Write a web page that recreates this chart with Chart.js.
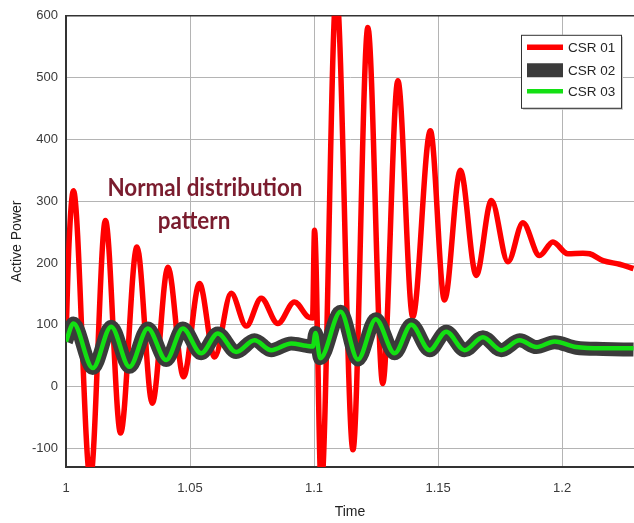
<!DOCTYPE html>
<html>
<head>
<meta charset="utf-8">
<script src="https://cdn.jsdelivr.net/npm/chart.js@4/dist/chart.umd.min.js"></script>
<style>
  html, body { margin: 0; padding: 0; background: #ffffff; }
  #wrap { width: 634px; height: 523px; }
</style>
</head>
<body>
<div id="wrap"><canvas id="c" width="634" height="523"></canvas></div>
<script>
// ---- data ----
const seriesNames = ['CSR 01', 'CSR 02', 'CSR 03'];

const csr01Time = [1.0000, 1.0012, 1.0030, 1.0098, 1.0159, 1.0220, 1.0286, 1.0348, 1.0411, 1.0474,
                   1.0538, 1.0599, 1.0666, 1.0727, 1.0787, 1.0854, 1.0921, 1.0975, 1.0994, 1.1002,
                   1.1029, 1.1090, 1.1157, 1.1217, 1.1277, 1.1338, 1.1398, 1.1469, 1.1526, 1.1590,
                   1.1654, 1.1715, 1.1782, 1.1842, 1.1909, 1.1963, 1.2023, 1.2084, 1.2111, 1.2165,
                   1.2232, 1.2288];
const csr01Power = [80, 230, 317, -150, 269, -75, 226, -27, 193, 16,
                    167, 48, 151, 98, 143, 102, 137, 113, 111, 253,
                    -165, 640, -102, 581, 5, 495, 113, 414, 140, 350,
                    180, 301, 202, 265, 212, 234, 215, 216, 215, 204,
                    198, 191];

const csr02Time = [1.0000, 1.0030, 1.0108, 1.0182, 1.0256, 1.0330, 1.0404, 1.0471, 1.0545, 1.0612,
                   1.0686, 1.0760, 1.0827, 1.0908, 1.0969, 1.0995, 1.1006, 1.1025, 1.1107, 1.1177,
                   1.1249, 1.1325, 1.1392, 1.1466, 1.1533, 1.1607, 1.1681, 1.1755, 1.1829, 1.1896,
                   1.1970, 1.2057, 1.2165, 1.2288];
const csr02Power = [73, 102, 30, 97, 32, 94, 43, 94, 54, 86,
                    56, 75, 59, 70, 66, 65, 87, 46, 121, 44,
                    109, 54, 100, 59, 89, 59, 80, 59, 75, 64,
                    72, 63, 61, 60];

const csr03Time = [1.0000, 1.0030, 1.0108, 1.0182, 1.0256, 1.0330, 1.0404, 1.0471, 1.0545, 1.0612,
                   1.0686, 1.0760, 1.0827, 1.0908, 1.0969, 1.0995, 1.1006, 1.1025, 1.1107, 1.1177,
                   1.1249, 1.1325, 1.1392, 1.1466, 1.1533, 1.1607, 1.1681, 1.1755, 1.1829, 1.1896,
                   1.1970, 1.2057, 1.2165, 1.2288];
const csr03Power = [73, 102, 30, 97, 32, 94, 43, 94, 54, 86,
                    56, 75, 59, 70, 66, 65, 87, 46, 121, 44,
                    109, 54, 100, 59, 89, 59, 80, 59, 75, 64,
                    73, 64, 62, 62];

const xTickValues = [1, 1.05, 1.1, 1.15, 1.2];
const yTickValues = [-100, 0, 100, 200, 300, 400, 500, 600];
const xRange = [1, 1.229];
const yRange = [-130, 600];
const annotationLines = ['Normal distribution', 'pattern'];

// ---- helpers ----
const toPoints = (ts, vs) => ts.map((t, i) => ({ x: t, y: vs[i] }));
const seriesColors = ['#ff0000', '#3b3b3b', '#13e013'];
const seriesWidths = [5.5, 14, 4.5];

const boxLegend = {
  id: 'boxLegend',
  afterDraw(chart) {
    const ctx = chart.ctx;
    const area = chart.chartArea;
    const bx = area.right - 113, by = area.top + 19, bw = 100, bh = 73;
    ctx.save();
    ctx.fillStyle = '#c8c8c8';
    ctx.fillRect(bx + 2, by + 2, bw, bh);
    ctx.fillStyle = '#ffffff';
    ctx.fillRect(bx, by, bw, bh);
    ctx.strokeStyle = '#333333';
    ctx.lineWidth = 1;
    ctx.strokeRect(bx + 0.5, by + 0.5, bw, bh);
    const rows = [12.5, 35.5, 56.5];
    const textRows = [13.5, 36.5, 57];
    ctx.font = '13.5px "Liberation Sans", Arial, sans-serif';
    ctx.textBaseline = 'middle';
    ctx.textAlign = 'left';
    chart.data.datasets.forEach((ds, i) => {
      ctx.strokeStyle = ds.borderColor;
      ctx.lineWidth = ds.borderWidth;
      ctx.lineCap = 'butt';
      ctx.beginPath();
      ctx.moveTo(bx + 6, by + rows[i]);
      ctx.lineTo(bx + 42, by + rows[i]);
      ctx.stroke();
      ctx.fillStyle = '#262626';
      ctx.fillText(ds.label, bx + 47, by + textRows[i]);
    });
    ctx.restore();
  }
};

const annotation = {
  id: 'annotation',
  afterDatasetsDraw(chart) {
    const ctx = chart.ctx;
    const xs = chart.scales.x, ys = chart.scales.y;
    ctx.save();
    ctx.font = 'bold 25px Lato, "Open Sans", sans-serif';
    ctx.fillStyle = '#7a1c2e';
    ctx.textBaseline = 'alphabetic';
    ctx.textAlign = 'left';
    const w1 = ctx.measureText(annotationLines[0]).width;
    const sx = 195 / w1;
    const x1 = xs.getPixelForValue(1.0167), y1 = ys.getPixelForValue(309);
    const x2 = xs.getPixelForValue(1.0370), y2 = ys.getPixelForValue(255);
    ctx.save(); ctx.translate(x1, y1); ctx.scale(sx, 1); ctx.fillText(annotationLines[0], 0, 0); ctx.restore();
    ctx.save(); ctx.translate(x2, y2); ctx.scale(sx, 1); ctx.fillText(annotationLines[1], 0, 0); ctx.restore();
    ctx.restore();
  }
};

const tickFont = { family: '"Liberation Sans", Arial, sans-serif', size: 13 };

new Chart(document.getElementById('c'), {
  type: 'line',
  data: {
    datasets: [
      { label: seriesNames[0], data: toPoints(csr01Time, csr01Power), order: 3 },
      { label: seriesNames[1], data: toPoints(csr02Time, csr02Power), order: 2 },
      { label: seriesNames[2], data: toPoints(csr03Time, csr03Power), order: 1 }
    ].map((d, i) => Object.assign(d, {
      borderColor: seriesColors[i],
      backgroundColor: seriesColors[i],
      borderWidth: seriesWidths[i],
      pointRadius: 0,
      fill: false,
      cubicInterpolationMode: 'monotone',
      borderJoinStyle: 'round',
      clip: 0
    }))
  },
  options: {
    responsive: false,
    animation: false,
    events: [],
    layout: { padding: { top: 13, right: 0, left: 0, bottom: 0 } },
    plugins: { legend: { display: false }, tooltip: { enabled: false } },
    scales: {
      x: {
        type: 'linear',
        min: xRange[0], max: xRange[1],
        afterBuildTicks: s => { s.ticks = xTickValues.map(v => ({ value: v })); },
        afterFit: s => { s.height = 56; },
        ticks: {
          font: tickFont, color: '#3a3a3a', padding: 14, maxRotation: 0,
          callback: v => String(v)
        },
        grid: { color: '#b4b4b4', lineWidth: 1, drawTicks: false },
        border: { color: '#333333', width: 2 },
        title: {
          display: true, text: 'Time', color: '#222222',
          font: { family: '"Liberation Sans", Arial, sans-serif', size: 14 },
          padding: { top: 0, bottom: 2 }
        }
      },
      y: {
        type: 'linear',
        min: yRange[0], max: yRange[1],
        afterBuildTicks: s => { s.ticks = yTickValues.map(v => ({ value: v })); },
        afterFit: s => { s.width = 66; },
        ticks: {
          font: tickFont, color: '#3a3a3a', padding: 8,
          callback: v => String(v)
        },
        grid: {
          color: c => (c.tick && c.tick.value === 600 ? '#333333' : '#b4b4b4'),
          lineWidth: c => (c.tick && c.tick.value === 600 ? 1.5 : 1),
          drawTicks: false
        },
        border: { color: '#333333', width: 2 },
        title: {
          display: true, text: 'Active Power', color: '#222222',
          font: { family: '"Liberation Sans", Arial, sans-serif', size: 14 },
          padding: { top: 9, bottom: 0 }
        }
      }
    }
  },
  plugins: [annotation, boxLegend]
});
</script>
</body>
</html>
